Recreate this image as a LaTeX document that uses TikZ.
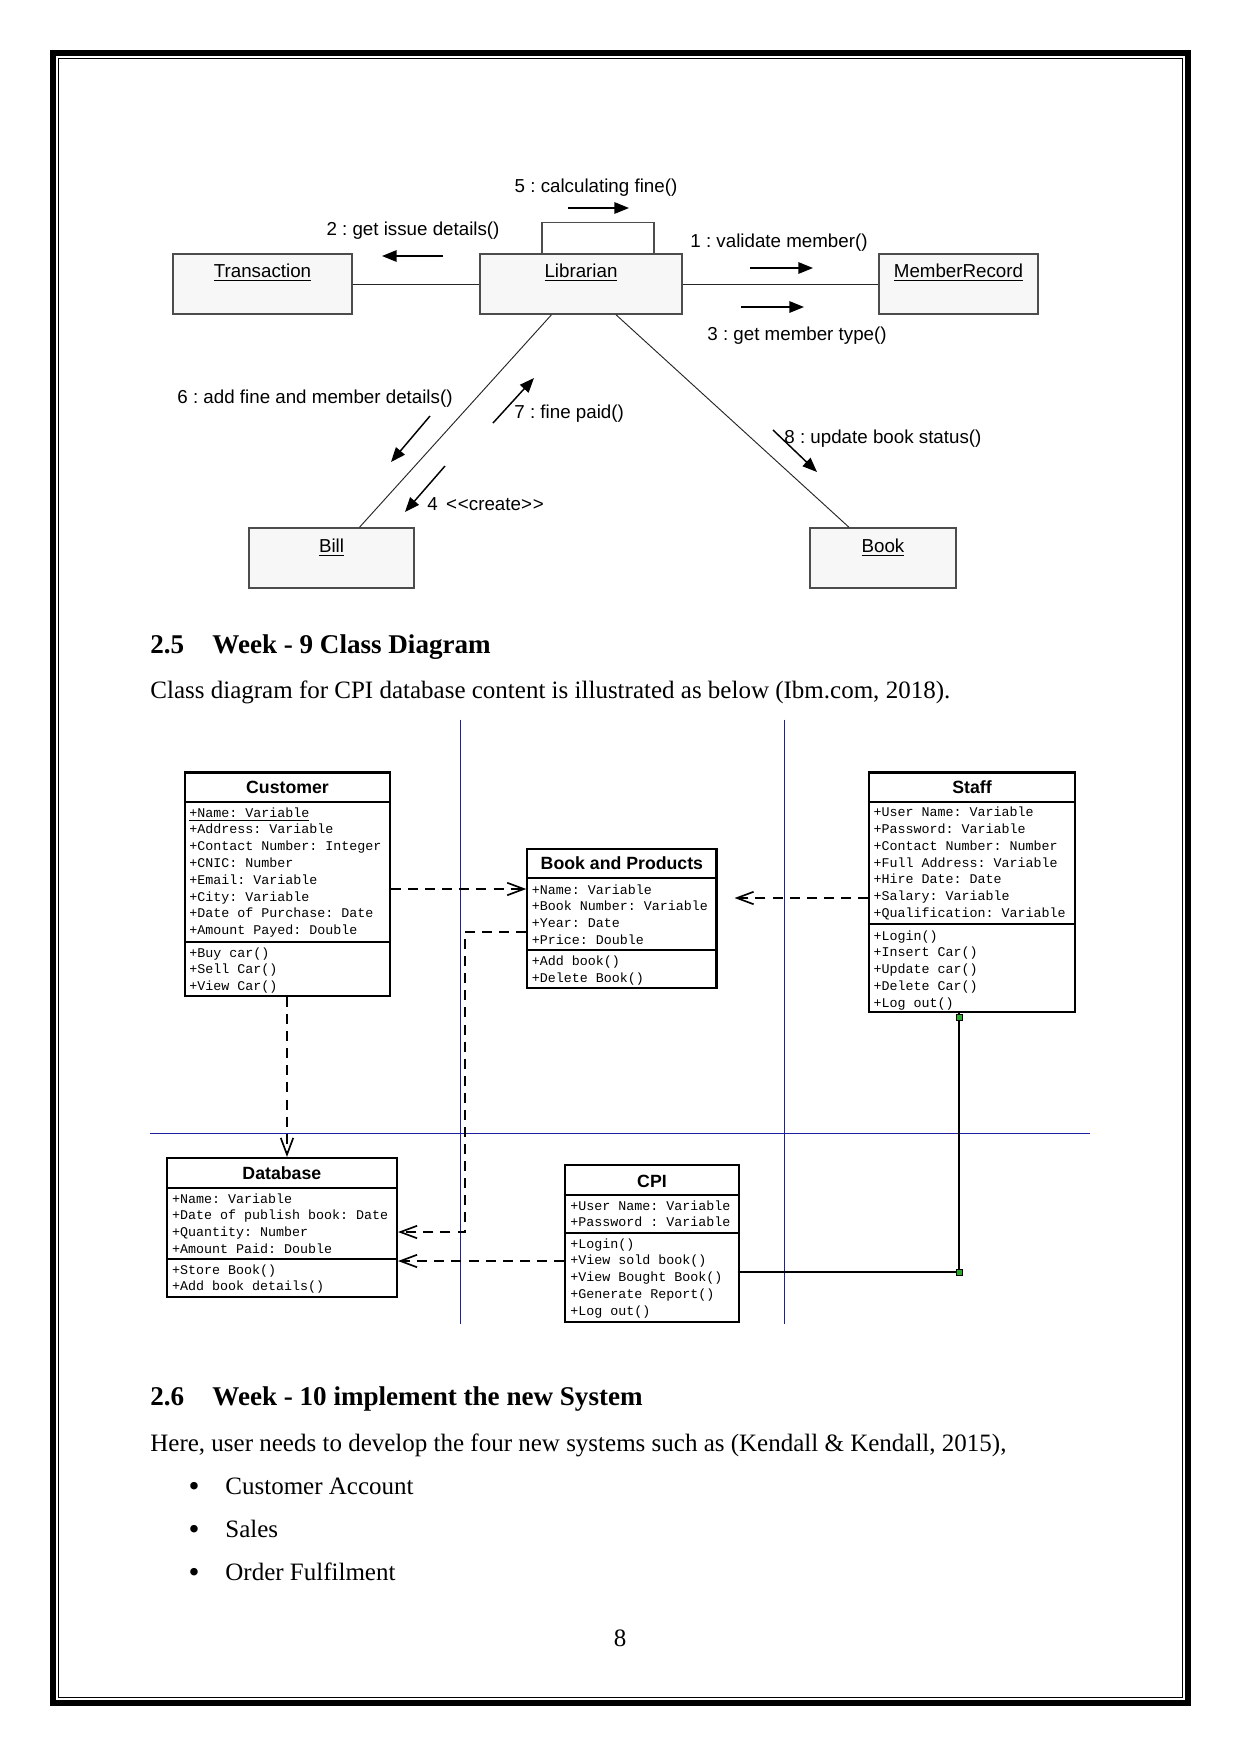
\documentclass[tikz,border=0pt]{standalone}
\usepackage{fontspec}
\setmainfont{Liberation Serif}
\newfontfamily\collabfont{Liberation Sans}
\newfontfamily\classfont{Liberation Mono}
\usetikzlibrary{arrows.meta,fit,calc}
\frenchspacing

\definecolor{objfill}{gray}{0.97}
\definecolor{objline}{gray}{0.3}
\definecolor{guideblue}{RGB}{30,30,160}
\definecolor{pingreen}{RGB}{40,170,40}

\tikzset{
  objbox/.style={draw=objline, fill=objfill, line width=0.7pt, inner sep=0pt},
  objname/.style={font=\collabfont\fontsize{9}{10}\selectfont, anchor=base, inner sep=0pt},
  msgtext/.style={font=\collabfont\fontsize{9}{10}\selectfont, inner sep=0pt},
  link/.style={draw=black!85, line width=0.45pt},
  msg/.style={line width=0.7pt, -{Triangle[length=7pt,width=5.5pt]}},
  classbox/.style={draw, line width=1pt, inner sep=0pt, fill=white},
  classtitle/.style={font=\collabfont\bfseries\fontsize{8.5}{10}\selectfont, anchor=base, inner sep=0pt},
  member/.style={font=\classfont\fontsize{6.4}{8}\selectfont, anchor=base west, inner sep=0pt},
  depend/.style={line width=0.8pt, dash pattern=on 4.8pt off 3.4pt, -{Straight Barb[length=8pt,width=6pt]}},
  guide/.style={draw=guideblue, line width=0.5pt},
  pin/.style={draw=black, fill=pingreen, line width=0.3pt, minimum size=3pt, inner sep=0pt},
  heading/.style={font=\fontsize{13}{15}\selectfont\bfseries, anchor=base west, inner sep=0pt},
  bodytext/.style={font=\fontsize{12}{14}\selectfont, anchor=base west, inner sep=0pt},
  bulletmark/.style={font=\fontsize{15}{15}\selectfont, anchor=base, inner sep=0pt}
}

\begin{document}
\begin{tikzpicture}[x=0.48pt, y=-0.48pt]
	\useasboundingbox (0,0) rectangle (1241,1754);

	% Page frame
	\draw[line width=2.9pt] (53,53) rectangle (1188,1703);
	\draw[line width=0.6pt] (58.5,58.5) rectangle (1182.5,1697.5);

	% Collaboration diagram: objects
	\node[objbox, fit={(173,254) (352,314)}] (transaction) {};
	\node[objbox, fit={(480,254) (682,314)}] (librarian) {};
	\node[objbox, fit={(879,254) (1038,314)}] (memberrecord) {};
	\node[objbox, fit={(249,528) (414,588)}] (bill) {};
	\node[objbox, fit={(810,528) (956,588)}] (book) {};

	\node[objname] (transaction-l) at (transaction.north |- 0,277) {\underline{Transaction}};
	\node[objname] (librarian-l) at (librarian.north |- 0,277) {\underline{Librarian}};
	\node[objname] (memberrecord-l) at (memberrecord.north |- 0,277) {\underline{MemberRecord}};
	\node[objname] (bill-l) at (bill.north |- 0,552) {\underline{Bill}};
	\node[objname] (book-l) at (book.north |- 0,552) {\underline{Book}};

	% Links
	\draw[link] (transaction) -- (librarian);
	\draw[link] (librarian) -- (memberrecord);
	\draw[link] ($(librarian.south)+(-29.5,0)$) -- ($(bill.north)+(28,0)$);
	\draw[link] ($(librarian.south)+(35,0)$) -- ($(book.north)+(-34,0)$);
	\draw[draw=objline, line width=0.7pt] ($(librarian.north)+(-39,0)$) -- ++(0,-31) -- ++(112,0) -- ++(0,31);

	% Messages
	\draw[msg] (568,208) -- (629,208);
	\draw[msg] (443,256) -- (382,256);
	\draw[msg] (750,268) -- (813,268);
	\draw[msg] (741,307) -- (804,307);
	\draw[msg] (430,416) -- (391,462);
	\draw[msg] (493,423) -- (534,378);
	\draw[msg] (445,466) -- (405,512);
	\draw[msg] (773,430) -- (817,472);

	\node[msgtext, anchor=base] (msg5) at (596,192) {5 : calculating fine()};
	\node[msgtext, anchor=base] (msg2) at (413,235) {2 : get issue details()};
	\node[msgtext, anchor=base] (msg1) at (779,247) {1 : validate member()};
	\node[msgtext, anchor=base] (msg3) at (797,340) {3 : get member type()};
	\node[msgtext, anchor=base] (msg6) at (315,403) {6 : add fine and member details()};
	\node[msgtext, anchor=base west] (msg7) at (514,418) {7 : fine paid()};
	\node[msgtext, anchor=base west] (msg4) at (427,510) {4\hspace{4pt}<\kern0.4pt<create>\kern0.4pt>};
	\node[msgtext, anchor=base west] (msg8) at (784,443) {8 : update book status()};

	% Section 2.5
	\node[heading] (sec25-num) at (150,653) {2.5};
	\node[heading] (sec25-title) at (212,653) {Week - 9 Class Diagram};
	\node[bodytext] (intro) at (150,698) {Class diagram for CPI database content is illustrated as below (Ibm.com, 2018).};

	% Class diagram: guides
	\draw[guide] (460.7,719.5) -- (460.7,1324);
	\draw[guide] (784.3,719.5) -- (784.3,1324);
	\draw[guide] (150,1133.6) -- (1090,1133.6);

	% Customer
	\node[classbox, fit={(185,772.5) (390,996)}] (customer) {};
	\draw[line width=1pt] (customer.west |- 0,802) -- (customer.east |- 0,802);
	\draw[line width=1pt] (customer.west |- 0,942) -- (customer.east |- 0,942);
	\node[classtitle] (customer-name) at (customer.north |- 0,793) {Customer};
	\foreach \t [count=\i from 0] in {\underline{+Name: Variable},+Address: Variable,+Contact Number: Integer,+CNIC: Number,+Email: Variable,+City: Variable,+Date of Purchase: Date,+Amount Payed: Double}
		\node[member] (customer-a\i) at (189,817+16.8*\i) {\t};
	\foreach \t [count=\i from 0] in {+Buy car(),+Sell Car(),+View Car()}
		\node[member] (customer-o\i) at (189,957+16.8*\i) {\t};

	% Book and Products
	\node[classbox, fit={(527.3,849) (716.5,988)}] (bookprod) {};
	\draw[line width=1pt] (bookprod.west |- 0,878) -- (bookprod.east |- 0,878);
	\draw[line width=1pt] (bookprod.west |- 0,950) -- (bookprod.east |- 0,950);
	\node[classtitle] (bookprod-name) at (bookprod.north |- 0,869) {Book and Products};
	\foreach \t [count=\i from 0] in {+Name: Variable,+Book Number: Variable,+Year: Date,+Price: Double}
		\node[member] (bookprod-a\i) at (531.5,894+16.7*\i) {\t};
	\foreach \t [count=\i from 0] in {+Add book(),+Delete Book()}
		\node[member] (bookprod-o\i) at (531.5,965.7+16.7*\i) {\t};

	% Staff
	\node[classbox, fit={(869,772.5) (1075,1012)}] (staff) {};
	\draw[line width=1pt] (staff.west |- 0,802) -- (staff.east |- 0,802);
	\draw[line width=1pt] (staff.west |- 0,924) -- (staff.east |- 0,924);
	\node[classtitle] (staff-name) at (staff.north |- 0,793) {Staff};
	\foreach \t [count=\i from 0] in {+User Name: Variable,+Password: Variable,+Contact Number: Number,+Full Address: Variable,+Hire Date: Date,+Salary: Variable,+Qualification: Variable}
		\node[member] (staff-a\i) at (873.3,816.7+16.8*\i) {\t};
	\foreach \t [count=\i from 0] in {+Login(),+Insert Car(),+Update car(),+Delete Car(),+Log out()}
		\node[member] (staff-o\i) at (873.3,940+16.8*\i) {\t};

	% Database
	\node[classbox, fit={(166.7,1158) (397,1297)}] (database) {};
	\draw[line width=1pt] (database.west |- 0,1188) -- (database.east |- 0,1188);
	\draw[line width=1pt] (database.west |- 0,1259) -- (database.east |- 0,1259);
	\node[classtitle] (database-name) at (database.north |- 0,1179) {Database};
	\foreach \t [count=\i from 0] in {+Name: Variable,+Date of publish book: Date,+Quantity: Number,+Amount Paid: Double}
		\node[member] (database-a\i) at (171.7,1203+16.7*\i) {\t};
	\foreach \t [count=\i from 0] in {+Store Book(),+Add book details()}
		\node[member] (database-o\i) at (171.7,1274+16.7*\i) {\t};

	% CPI
	\node[classbox, fit={(565,1165) (739,1321.7)}] (cpi) {};
	\draw[line width=1pt] (cpi.west |- 0,1195) -- (cpi.east |- 0,1195);
	\draw[line width=1pt] (cpi.west |- 0,1233) -- (cpi.east |- 0,1233);
	\node[classtitle] (cpi-name) at (cpi.north |- 0,1187) {CPI};
	\foreach \t [count=\i from 0] in {+User Name: Variable,+Password : Variable}
		\node[member] (cpi-a\i) at (570,1210+16.7*\i) {\t};
	\foreach \t [count=\i from 0] in {+Login(),+View sold book(),+View Bought Book(),+Generate Report(),+Log out()}
		\node[member] (cpi-o\i) at (570,1248+16.8*\i) {\t};

	% Dependencies
	\draw[depend] (customer.east |- 0,889) -- (bookprod.west |- 0,889);
	\draw[depend] (staff.west |- 0,898) -- ($(bookprod.east |- 0,898)+(17,0)$);
	\draw[depend] (287,0 |- customer.south) -- (287,0 |- database.north);
	\draw[depend] (bookprod.west |- 0,932) -- (465,932) -- (465,1232) -- (database.east |- 0,1232);
	\draw[depend] (cpi.west |- 0,1261) -- (database.east |- 0,1261);

	% Association Staff - CPI
	\draw[line width=1pt] (959,0 |- staff.south) -- (959,1272) -- (cpi.east |- 0,1272);
	\node[pin] (pin-staff) at (959,1017) {};
	\node[pin] (pin-cpi) at (959,1272) {};

	% Section 2.6
	\node[heading] (sec26-num) at (150,1405.5) {2.6};
	\node[heading] (sec26-title) at (212,1405.5) {Week - 10 implement the new System};
	\node[bodytext] (plan) at (150,1451) {Here, user needs to develop the four new systems such as (Kendall \& Kendall, 2015),};
	\foreach \t [count=\i from 0] in {Customer Account,Sales,Order Fulfilment} {
		\node[bulletmark] (bullet\i) at (194,1496+43*\i) {\textbullet};
		\node[bodytext] (item\i) at (225,1494+43*\i) {\t};
	}

	% Page number
	\node[bodytext, anchor=base] (pageno) at (620,1646) {8};

\end{tikzpicture}
\end{document}
